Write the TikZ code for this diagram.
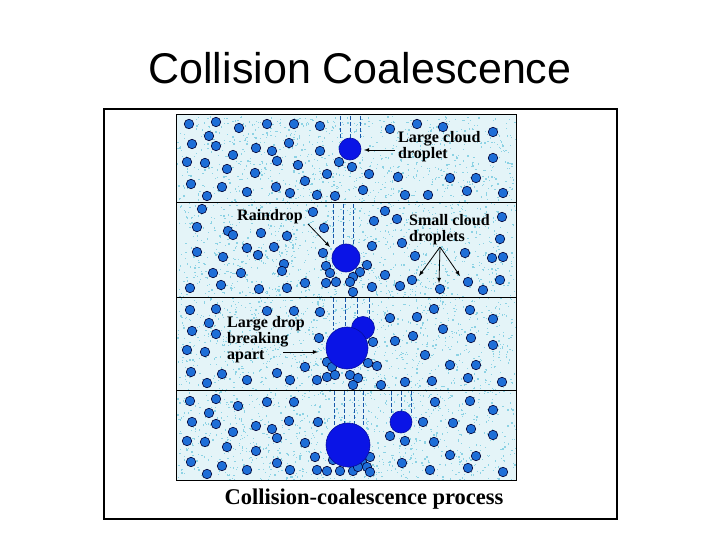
\documentclass[tikz,border=0pt]{standalone}
\usepackage{fontspec}
\setmainfont{Liberation Serif}
\newfontfamily\titlefont{Liberation Sans}
\definecolor{bgc}{RGB}{228,244,248}
\definecolor{spk}{RGB}{140,210,228}
\definecolor{dropc}{RGB}{30,110,215}
\definecolor{bigc}{RGB}{10,20,230}
\begin{document}
\begin{tikzpicture}[x=1pt,y=-1pt,
  sd/.style={circle,fill=dropc,draw=black!80!blue,line width=0.6pt,minimum size=9.5pt,inner sep=0pt},
  bd/.style={fill=bigc,draw=bigc!70!black,line width=0.6pt},
  trail/.style={dashed,draw=dropc!80!black,line width=0.6pt,dash pattern=on 4pt off 2pt},
  lbl/.style={font=\bfseries\fontsize{16}{16}\selectfont,align=left,anchor=north west,inner sep=0pt},
  arr/.style={-latex,line width=0.8pt}]
\useasboundingbox (0,0) rectangle (720,540);
\node[font=\titlefont\fontsize{43}{46}\selectfont] (title) at (360,68) {Collision Coalescence};
\draw[line width=2pt] (104,109) rectangle (617,519);
\fill[bgc] (176,115) rectangle (516,480);
\pgfmathsetseed{7}
\foreach \i in {1,...,4000}{
  \pgfmathsetmacro{\px}{177+338*rnd}\pgfmathsetmacro{\py}{116+363*rnd}
  \fill[spk] (\px,\py) rectangle ++(1.3,1.3);}
\draw[line width=1pt] (176,115) rectangle (516,480);
\foreach \y in {203,297,390} \draw[line width=1pt] (176,\y) -- (516,\y);
% trails
\foreach \x in {340,350,360} \draw[trail] (\x,116) -- (\x,138);
\foreach \x in {333,343,353} \draw[trail] (\x,204) -- (\x,244);
\foreach \x in {333,345,357,369} \draw[trail] (\x,298) -- (\x,330);
\foreach \x in {334,344,354,363} \draw[trail] (\x,391) -- (\x,425);
\foreach \x in {391,401,411} \draw[trail] (\x,391) -- (\x,413);
% small droplets
\foreach \p [count=\k] in {(189,124),(216,122),(239,128),(267,124),(294,124),(320,126),(390,129),(417,124),(443,127),(493,132),(209,136),(192,144),(216,146),(256,148),(272,151),(289,143),(320,151),(233,155),(187,162),(205,163),(277,161),(298,165),(339,162),(352,167),(493,158),(227,169),(255,173),(327,174),(369,174),(398,177),(305,181),(450,178),(476,178),(191,184),(222,187),(276,187),(363,190),(207,196),(247,192),(290,193),(317,195),(335,196),(405,195),(428,195),(467,191),(503,193),
(202,209),(313,212),(374,221),(385,211),(397,219),(502,217),(197,227),(228,231),(233,235),(261,233),(287,236),(324,228),(500,239),(372,246),(402,243),(197,252),(223,257),(247,248),(258,255),(274,247),(323,253),(415,256),(465,253),(492,258),(503,257),(284,264),(282,271),(213,273),(241,273),(326,266),(330,273),(367,265),(360,272),(353,277),(385,275),(412,280),(440,289),(468,282),(500,280),(190,288),(221,285),(259,289),(287,288),(305,283),(326,283),(336,282),(350,282),(353,292),(372,287),(400,286),(483,290),
(190,310),(216,309),(267,311),(294,311),(320,312),(390,318),(417,317),(434,309),(470,310),(493,319),(209,323),(192,331),(216,334),(319,338),(373,342),(395,341),(413,336),(443,329),(471,338),(493,345),(187,350),(205,352),(425,355),(327,362),(332,367),(368,363),(377,366),(305,367),(450,365),(476,365),(191,372),(222,374),(277,373),(317,380),(327,377),(335,375),(350,375),(358,378),(353,385),(381,385),(405,382),(432,381),(468,378),(502,382),(207,383),(247,380),(290,380),
(190,401),(216,399),(238,406),(267,402),(294,402),(435,402),(470,401),(493,410),(209,413),(192,422),(216,424),(233,432),(256,426),(272,429),(289,421),(318,422),(423,422),(453,423),(471,429),(277,438),(187,441),(205,442),(227,447),(305,443),(390,436),(405,441),(434,442),(493,435),(256,451),(315,457),(370,457),(191,462),(222,466),(277,463),(333,460),(362,462),(367,467),(402,463),(450,455),(476,456),(207,474),(247,470),(290,470),(317,470),(327,471),(340,471),(353,471),(358,467),(370,472),(430,470),(468,468),(503,472)}
  \node[sd] (d\k) at \p {};
% big drops
\fill[bd] (350,149) circle (11) node (ld) {};
\fill[bd] (346,258) circle (14) node (rd) {};
\fill[bd] (363,328) circle (11.5);
\fill[bd] (347,348) circle (21) node (bk) {};
\fill[bd] (348,445) circle (22) node (fd) {};
\fill[bd] (401,422) circle (11) node (sm) {};
% labels
\node[lbl] (l1) at (398,131) {Large cloud\\droplet};
\draw[arr] (395,150) -- (364,150);
\node[lbl] (l2) at (237,209) {Raindrop};
\coordinate (ra) at (308,224);
\draw[arr] (ra) -- (330,247);
\node[lbl] (l3) at (409,214) {Small cloud\\droplets};
\coordinate (sc) at (440,247);
\coordinate (s1) at (419,276);\coordinate (s2) at (439,283);\coordinate (s3) at (460,276);
\draw[arr] (sc) -- (s1); \draw[arr] (sc) -- (s2); \draw[arr] (sc) -- (s3);
\node[lbl] (l4) at (227,316) {Large drop\\breaking\\apart};
\draw[arr] (283,352) -- (318,352);
\node[font=\bfseries\fontsize{22.5}{24}\selectfont] (cap) at (364,499) {Collision-coalescence process};
\end{tikzpicture}
\end{document}
